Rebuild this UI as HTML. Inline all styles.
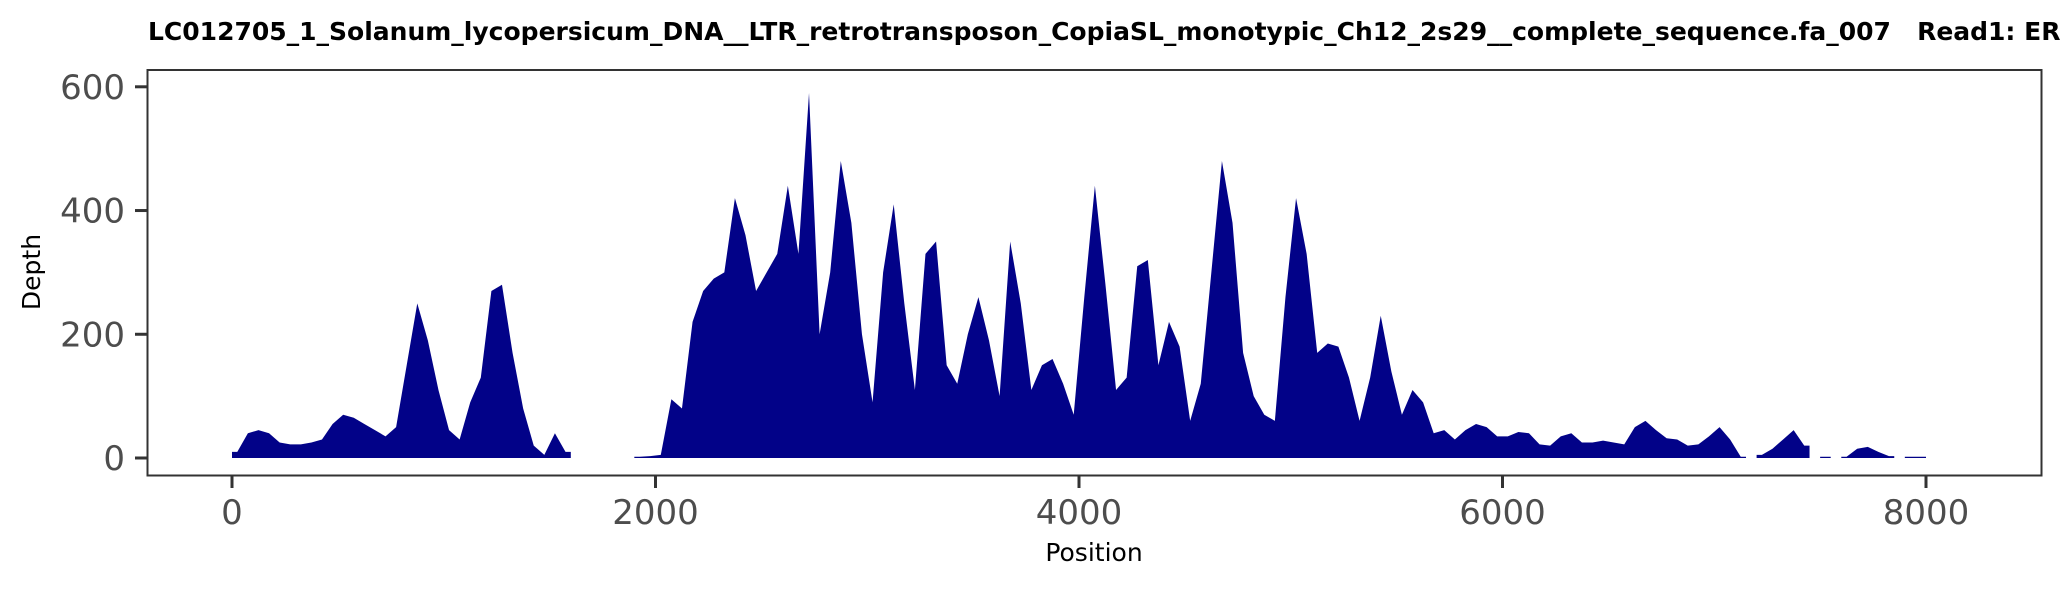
<!DOCTYPE html>
<html><head><meta charset="utf-8"><style>
body{margin:0;background:#fff;}
svg{display:block;font-family:"DejaVu Sans","Liberation Sans",sans-serif;}
</style></head><body>
<svg id="chart" width="2066" height="590">
<text x="148" y="40" font-size="25" font-weight="bold" fill="#000" style="white-space:pre">LC012705_1_Solanum_lycopersicum_DNA__LTR_retrotransposon_CopiaSL_monotypic_Ch12_2s29__complete_sequence.fa_007   Read1: ER</text>
<g id="marks"></g>
<rect x="147.5" y="70" width="1894" height="405.5" fill="none" stroke="#333" stroke-width="2"/>
<g id="axes"></g>
<text x="1094" y="561" font-size="25" text-anchor="middle" fill="#000">Position</text>
<text transform="translate(40,272) rotate(-90)" font-size="25" text-anchor="middle" fill="#000">Depth</text>
</svg>
<script>
const positions=[];for(let p=0;p<=8050;p+=50)positions.push(p);
const depth=[10,40,45,40,25,22,22,25,30,55,70,65,55,45,35,50,150,250,190,110,45,30,90,130,270,280,170,80,20,5,40,10,
null,null,null,null,null,null,2,3,5,95,80,220,270,290,300,420,360,270,300,330,440,330,590,200,300,480,380,200,90,300,410,250,110,330,350,150,120,200,260,190,100,350,250,110,150,160,120,70,260,440,280,110,130,310,320,150,220,180,60,120,300,480,380,170,100,70,60,260,420,330,170,185,180,130,60,130,230,140,70,110,90,40,45,30,45,55,50,35,35,42,40,22,20,35,40,25,25,28,25,22,50,60,45,32,30,20,22,35,50,30,2,null,5,15,30,45,20,null,2,null,2,15,18,10,3,null,2,2,null];
const xTicks=[0,2000,4000,6000,8000];
const yTicks=[0,200,400,600];
const binW=50;
const NS='http://www.w3.org/2000/svg';
const sx=v=>232+v*(1926-232)/8000;
const sy=v=>458-v*(458-86.8)/600;
const marks=document.getElementById('marks');
let seg=[];
function flush(){
  if(!seg.length)return;
  let d='M'+sx(seg[0][0])+','+sy(0);
  d+='L'+sx(seg[0][0])+','+sy(seg[0][1]);
  seg.forEach(([p,v])=>{d+='L'+sx(p+binW/2)+','+sy(v);});
  const last=seg[seg.length-1];
  d+='L'+sx(last[0]+binW)+','+sy(last[1])+'L'+sx(last[0]+binW)+','+sy(0)+'Z';
  const el=document.createElementNS(NS,'path');
  el.setAttribute('d',d);el.setAttribute('fill','#020288');
  
  
  marks.appendChild(el);seg=[];
}
positions.forEach((p,i)=>{const v=depth[i];if(v==null||v===undefined)flush();else seg.push([p,v]);});
flush();
const axes=document.getElementById('axes');
xTicks.forEach(t=>{
  const l=document.createElementNS(NS,'line');
  l.setAttribute('x1',sx(t));l.setAttribute('x2',sx(t));l.setAttribute('y1',476);l.setAttribute('y2',488);
  l.setAttribute('stroke','#333');l.setAttribute('stroke-width',3);
  
  
  axes.appendChild(l);
  const tx=document.createElementNS(NS,'text');
  tx.setAttribute('x',sx(t));tx.setAttribute('y',524);tx.setAttribute('font-size',34);
  tx.setAttribute('text-anchor','middle');tx.setAttribute('fill','#4d4d4d');tx.textContent=t;
  
  
  axes.appendChild(tx);
});
yTicks.forEach(t=>{
  const l=document.createElementNS(NS,'line');
  l.setAttribute('x1',135);l.setAttribute('x2',147);l.setAttribute('y1',sy(t));l.setAttribute('y2',sy(t));
  l.setAttribute('stroke','#333');l.setAttribute('stroke-width',3);
  
  
  axes.appendChild(l);
  const tx=document.createElementNS(NS,'text');
  tx.setAttribute('x',125);tx.setAttribute('y',sy(t)+12);tx.setAttribute('font-size',34);
  tx.setAttribute('text-anchor','end');tx.setAttribute('fill','#4d4d4d');tx.textContent=t;
  
  
  axes.appendChild(tx);
});
</script>
</body></html>
